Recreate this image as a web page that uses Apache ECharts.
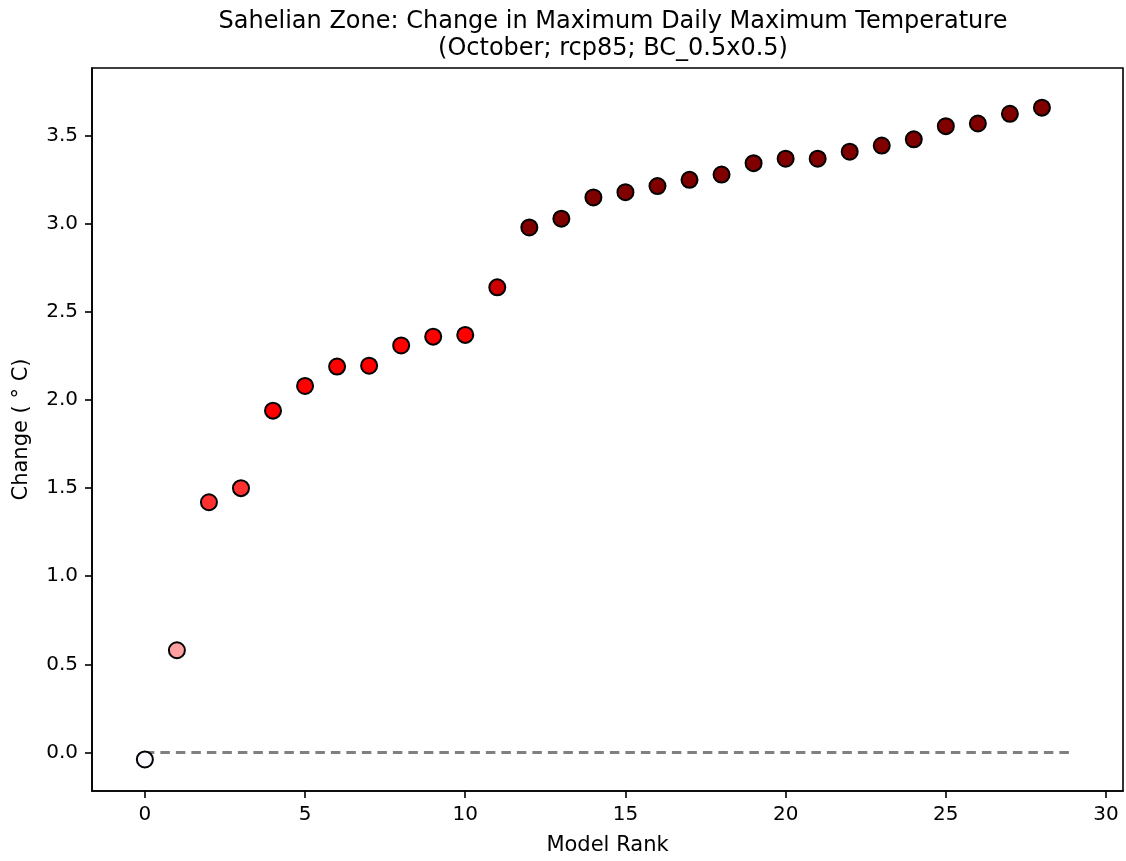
<!DOCTYPE html>
<html>
<head>
<meta charset="utf-8">
<script src="https://cdn.jsdelivr.net/npm/echarts@6/dist/echarts.min.js"></script>
<style>
html,body{margin:0;padding:0;background:#fff;}
#chart{width:1126px;height:861px;}
</style>
</head>
<body>
<div id="chart"></div>
<script>
// Data
const ranks = [0,1,2,3,4,5,6,7,8,9,10,11,12,13,14,15,16,17,18,19,20,21,22,23,24,25,26,27,28];
const changes = [-0.04,0.58,1.42,1.50,1.94,2.08,2.19,2.195,2.31,2.36,2.37,2.64,2.98,3.03,3.15,3.18,3.215,3.25,3.28,3.345,3.37,3.37,3.41,3.445,3.48,3.555,3.57,3.625,3.66];
const pointColors = ['#f8f8ff','#ffa0a0','#ff3030','#ff3030','#ff0000','#ff0000','#ff0000','#ff0000','#ff0000','#ff0000','#ff0000','#cc0000',
  '#800000','#800000','#800000','#800000','#800000','#800000','#800000','#800000','#800000','#800000','#800000','#800000','#800000','#800000','#800000','#800000','#800000'];
const zeroLineX = [0, 29];
const xTicks = [0,5,10,15,20,25,30];
const yTicks = [0,0.5,1.0,1.5,2.0,2.5,3.0,3.5];
const titleText = 'Sahelian Zone: Change in Maximum Daily Maximum Temperature\n(October; rcp85; BC_0.5x0.5)';

const font = 'DejaVu Sans';
const chart = echarts.init(document.getElementById('chart'), null, {renderer:'canvas'});
chart.setOption({
  animation:false,
  backgroundColor:'#fff',
  title:{
    text:titleText,
    left:608, textAlign:'center', top:3,
    textStyle:{fontFamily:font,fontSize:24,fontWeight:'normal',color:'#000',lineHeight:27}
  },
  grid:{left:92,right:3,top:68,bottom:69,show:true,borderColor:'#000',borderWidth:1.6,backgroundColor:'transparent'},
  xAxis:{
    type:'value',min:-1.65,max:30.53,
    name:'Model Rank',nameLocation:'middle',nameGap:44,
    nameTextStyle:{fontFamily:font,fontSize:21,color:'#000'},
    axisLine:{show:true,onZero:false,lineStyle:{color:'#000',width:1.6}},
    axisTick:{show:true,length:7,inside:false,customValues:xTicks,lineStyle:{color:'#000',width:1.6}},
    axisLabel:{show:true,customValues:xTicks,margin:14,fontFamily:font,fontSize:20,color:'#000'},
    splitLine:{show:false}
  },
  yAxis:{
    type:'value',min:-0.219,max:3.885,
    name:'Change ( ° C)',nameLocation:'middle',nameGap:60,
    nameTextStyle:{fontFamily:font,fontSize:21,color:'#000'},
    axisLine:{show:true,onZero:false,lineStyle:{color:'#000',width:1.6}},
    axisTick:{show:true,length:7,inside:false,customValues:yTicks,lineStyle:{color:'#000',width:1.6}},
    axisLabel:{show:true,customValues:yTicks,margin:14,fontFamily:font,fontSize:20,color:'#000',
      formatter:v=>v.toFixed(1)},
    splitLine:{show:false}
  },
  series:[
    {
      type:'line',
      data:zeroLineX.map(x=>[x,0]),
      symbol:'none',
      lineStyle:{color:'#808080',width:3,type:[9.5,6]},
      z:1
    },
    {
      type:'scatter',
      data:ranks.map((r,i)=>({value:[r,changes[i]],itemStyle:{color:pointColors[i]}})),
      symbol:'circle',
      symbolSize:16,
      itemStyle:{borderColor:'#000',borderWidth:2,opacity:1},
      z:3
    }
  ]
});
</script>
</body>
</html>
